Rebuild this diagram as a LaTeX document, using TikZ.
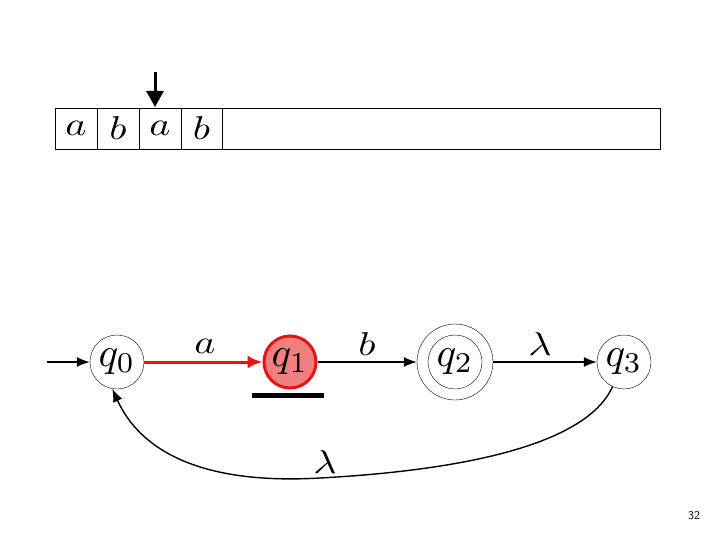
\documentclass[tikz,border=0pt]{standalone}
\usetikzlibrary{arrows.meta}
\definecolor{qred}{RGB}{230,20,20}
\definecolor{qfill}{RGB}{240,128,128}
\newcommand\stq[1]{\scalebox{4.1}{$q_{#1}$}}
\newcommand\biglbl[1]{\scalebox{4.0}[3.3]{$#1$}}
\begin{document}
\begin{tikzpicture}[x=1pt,y=-1pt,
  state/.style={circle,draw,thin,minimum size=54pt,inner sep=0pt},
  cell/.style={minimum width=42pt,minimum height=41pt,inner sep=0pt},
  lbl/.style={inner sep=0pt},
  edge/.style={draw,line width=1.4pt,-{Latex[length=13pt,width=10pt]}}]
\useasboundingbox (0,0) rectangle (720,540);
% tape
\node[draw,thin,minimum width=605pt,minimum height=41pt,inner sep=0pt,anchor=west] (tape) at (55,128.5) {};
\node[cell] (c1) at (76,128) {\biglbl{a}};
\node[cell] (c2) at (118,128) {\biglbl{b}};
\node[cell] (c3) at (160,128) {\biglbl{a}};
\node[cell] (c4) at (201.5,128) {\biglbl{b}};
\foreach \x in {97,139,181,222} \draw[thin] (\x,108) -- (\x,149);
\coordinate (hd) at (155,72);
\draw[line width=3pt,-{Triangle[length=16pt,width=17pt]}] (hd) -- (155,107);
% states
\node[state] (q0) at (117,362) {\stq0};
\node[state,draw=qred,fill=qfill,line width=3pt,minimum size=52pt] (q1) at (290,362) {\stq1};
\node[state,minimum size=76pt] (q2) at (455,362) {};
\node[state] (q2i) at (455,362) {\stq2};
\node[state] (q3) at (624,362) {\stq3};
\coordinate (st) at (47,362);
\draw[edge] (st) -- (q0);
\draw[edge,qred,line width=3pt,-{Latex[length=15pt,width=13pt]}] (q0) -- (q1);
\draw[edge] (q1) -- (q2);
\draw[edge] (q2) -- (q3);
\node[lbl] (la) at (205,346) {\biglbl{a}};
\node[lbl] (lb) at (367,344) {\biglbl{b}};
\node[lbl] (ll) at (540,344) {\biglbl{\lambda}};
% underline bar
\fill (252,393) rectangle (324,398);
% loop
\coordinate (m) at (320,478);
\draw[edge] (q3.-115) .. controls (585,448) and (450,471) .. (m)
  .. controls (200,485) and (140,450) .. (q0.-100);
\node[lbl] (lm) at (325,462) {\biglbl{\lambda}};
\node[font=\sffamily\fontsize{12}{14}\selectfont] (pg) at (694,516) {32};
\end{tikzpicture}
\end{document}
